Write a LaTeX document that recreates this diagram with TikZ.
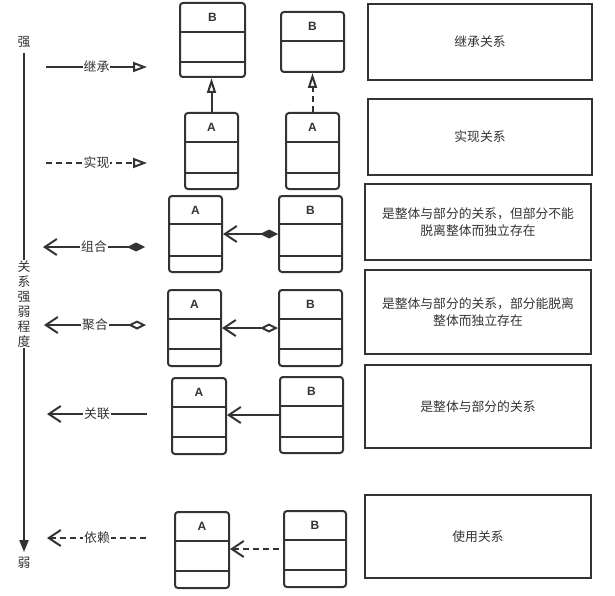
\documentclass[tikz,border=0pt]{standalone}
\usepackage{fontspec}
\setmainfont{Noto Sans CJK SC}
\newfontfamily\latinsans{Liberation Sans}
\usetikzlibrary{arrows.meta}
\definecolor{ink}{HTML}{333333}

\begin{document}
\begin{tikzpicture}[x=1pt,y=-1pt,
  cls/.style={draw=ink,line width=2pt,rounded corners=3pt,anchor=north west,inner sep=0pt},
  ttl/.style={text=ink,font=\latinsans\bfseries\fontsize{12}{12}\selectfont},
  note/.style={draw=ink,line width=2pt,anchor=north west,inner sep=0pt,align=center,text=ink,font=\fontsize{12.8}{17}\selectfont},
  lab/.style={fill=white,inner sep=1pt,text=ink,font=\fontsize{12.8}{15}\selectfont},
  link/.style={draw=ink,line width=2pt},
  dashline/.style={dash pattern=on 6pt off 4pt}]
\useasboundingbox (0,0) rectangle (615,596);

% strength axis
\node[lab] (strong) at (24,42) {强};
\node[lab] (weak) at (24,563) {弱};
\draw[link,shorten <=4pt,shorten >=4pt,-{Triangle[length=12pt,width=9pt]}] (strong) -- (weak);
\node[lab,align=center] (axis) at (24,304) {关\\系\\强\\弱\\程\\度};

% legend arrows
\coordinate (inhL) at (46,67);  \coordinate (inhR) at (147,67);
\coordinate (impL) at (46,163); \coordinate (impR) at (147,163);
\coordinate (comL) at (43,247); \coordinate (comR) at (145,247);
\coordinate (aggL) at (44,325); \coordinate (aggR) at (146,325);
\coordinate (assL) at (47,414); \coordinate (assR) at (147,414);
\coordinate (depL) at (47,538); \coordinate (depR) at (147,538);
\draw[link,-{Triangle[open,length=14pt,width=10pt]}] (inhL) -- node[lab] {继承} (inhR);
\draw[link,dashline,-{Triangle[open,length=14pt,width=10pt]}] (impL) -- node[lab] {实现} (impR);
\draw[link,{Straight Barb[length=12pt,width=16pt]}-{Diamond[length=18pt,width=9pt]}] (comL) -- node[lab] {组合} (comR);
\draw[link,{Straight Barb[length=12pt,width=16pt]}-{Diamond[open,length=18pt,width=9pt]}] (aggL) -- node[lab] {聚合} (aggR);
\draw[link,{Straight Barb[length=12pt,width=16pt]}-] (assL) -- node[lab] {关联} (assR);
\draw[link,dashline,{Straight Barb[length=12pt,width=16pt]}-] (depL) -- node[lab] {依赖} (depR);

% inheritance
\node[cls,minimum width=65pt,minimum height=74pt] (b1) at (179,2) {};
\node[ttl] (b1t) at ([yshift=-15pt]b1.north) {B};
\draw[link] ([yshift=-30pt]b1.north west) -- ([yshift=-30pt]b1.north east);
\draw[link] ([yshift=-60pt]b1.north west) -- ([yshift=-60pt]b1.north east);
\node[cls,minimum width=53pt,minimum height=76pt] (a1) at (184,112) {};
\node[ttl] (a1t) at ([yshift=-15pt]a1.north) {A};
\draw[link] ([yshift=-30pt]a1.north west) -- ([yshift=-30pt]a1.north east);
\draw[link] ([yshift=-61pt]a1.north west) -- ([yshift=-61pt]a1.north east);
\draw[link,-{Triangle[open,length=15pt,width=9pt]}] (a1.north) -- (a1.north |- b1.south);

% realization
\node[cls,minimum width=63pt,minimum height=60pt] (b2) at (280,11) {};
\node[ttl] (b2t) at ([yshift=-15pt]b2.north) {B};
\draw[link] ([yshift=-30pt]b2.north west) -- ([yshift=-30pt]b2.north east);
\node[cls,minimum width=53pt,minimum height=76pt] (a2) at (285,112) {};
\node[ttl] (a2t) at ([yshift=-15pt]a2.north) {A};
\draw[link] ([yshift=-30pt]a2.north west) -- ([yshift=-30pt]a2.north east);
\draw[link] ([yshift=-61pt]a2.north west) -- ([yshift=-61pt]a2.north east);
\draw[link,dashline,-{Triangle[open,length=15pt,width=9pt]}] (a2.north) -- (a2.north |- b2.south);

% composition
\node[cls,minimum width=53pt,minimum height=76pt] (a3) at (168,195) {};
\node[ttl] (a3t) at ([yshift=-15pt]a3.north) {A};
\draw[link] ([yshift=-29pt]a3.north west) -- ([yshift=-29pt]a3.north east);
\draw[link] ([yshift=-61pt]a3.north west) -- ([yshift=-61pt]a3.north east);
\node[cls,minimum width=63pt,minimum height=76pt] (b3) at (278,195) {};
\node[ttl] (b3t) at ([yshift=-15pt]b3.north) {B};
\draw[link] ([yshift=-29pt]b3.north west) -- ([yshift=-29pt]b3.north east);
\draw[link] ([yshift=-61pt]b3.north west) -- ([yshift=-61pt]b3.north east);
\draw[link,{Straight Barb[length=12pt,width=16pt]}-{Diamond[length=18pt,width=9pt]}] (a3.east) -- (b3.west);

% aggregation
\node[cls,minimum width=53pt,minimum height=76pt] (a4) at (167,289) {};
\node[ttl] (a4t) at ([yshift=-15pt]a4.north) {A};
\draw[link] ([yshift=-30pt]a4.north west) -- ([yshift=-30pt]a4.north east);
\draw[link] ([yshift=-60pt]a4.north west) -- ([yshift=-60pt]a4.north east);
\node[cls,minimum width=63pt,minimum height=76pt] (b4) at (278,289) {};
\node[ttl] (b4t) at ([yshift=-15pt]b4.north) {B};
\draw[link] ([yshift=-30pt]b4.north west) -- ([yshift=-30pt]b4.north east);
\draw[link] ([yshift=-60pt]b4.north west) -- ([yshift=-60pt]b4.north east);
\draw[link,{Straight Barb[length=12pt,width=16pt]}-{Diamond[open,length=18pt,width=9pt]}] (a4.east) -- (b4.west);

% association
\node[cls,minimum width=54pt,minimum height=76pt] (a5) at (171,377) {};
\node[ttl] (a5t) at ([yshift=-15pt]a5.north) {A};
\draw[link] ([yshift=-30pt]a5.north west) -- ([yshift=-30pt]a5.north east);
\draw[link] ([yshift=-60pt]a5.north west) -- ([yshift=-60pt]a5.north east);
\node[cls,minimum width=63pt,minimum height=76pt] (b5) at (279,376) {};
\node[ttl] (b5t) at ([yshift=-15pt]b5.north) {B};
\draw[link] ([yshift=-30pt]b5.north west) -- ([yshift=-30pt]b5.north east);
\draw[link] ([yshift=-61pt]b5.north west) -- ([yshift=-61pt]b5.north east);
\draw[link,{Straight Barb[length=12pt,width=16pt]}-] (b5.west -| a5.east) -- (b5.west);

% dependency
\node[cls,minimum width=54pt,minimum height=76pt] (a6) at (174,511) {};
\node[ttl] (a6t) at ([yshift=-15pt]a6.north) {A};
\draw[link] ([yshift=-30pt]a6.north west) -- ([yshift=-30pt]a6.north east);
\draw[link] ([yshift=-60pt]a6.north west) -- ([yshift=-60pt]a6.north east);
\node[cls,minimum width=62pt,minimum height=76pt] (b6) at (283,510) {};
\node[ttl] (b6t) at ([yshift=-15pt]b6.north) {B};
\draw[link] ([yshift=-30pt]b6.north west) -- ([yshift=-30pt]b6.north east);
\draw[link] ([yshift=-60pt]b6.north west) -- ([yshift=-60pt]b6.north east);
\draw[link,dashline,{Straight Barb[length=12pt,width=16pt]}-] (b6.west -| a6.east) -- (b6.west);

% descriptions
\node[note,minimum width=224pt,minimum height=76pt] (n1) at (367,3) {继承关系};
\node[note,minimum width=224pt,minimum height=76pt] (n2) at (367,98) {实现关系};
\node[note,minimum width=226pt,minimum height=76pt] (n3) at (364,183) {是整体与部分的关系，但部分不能\\脱离整体而独立存在};
\node[note,minimum width=226pt,minimum height=84pt] (n4) at (364,269) {是整体与部分的关系，部分能脱离\\整体而独立存在};
\node[note,minimum width=226pt,minimum height=83pt] (n5) at (364,364) {是整体与部分的关系};
\node[note,minimum width=226pt,minimum height=83pt] (n6) at (364,494) {使用关系};
\end{tikzpicture}
\end{document}
